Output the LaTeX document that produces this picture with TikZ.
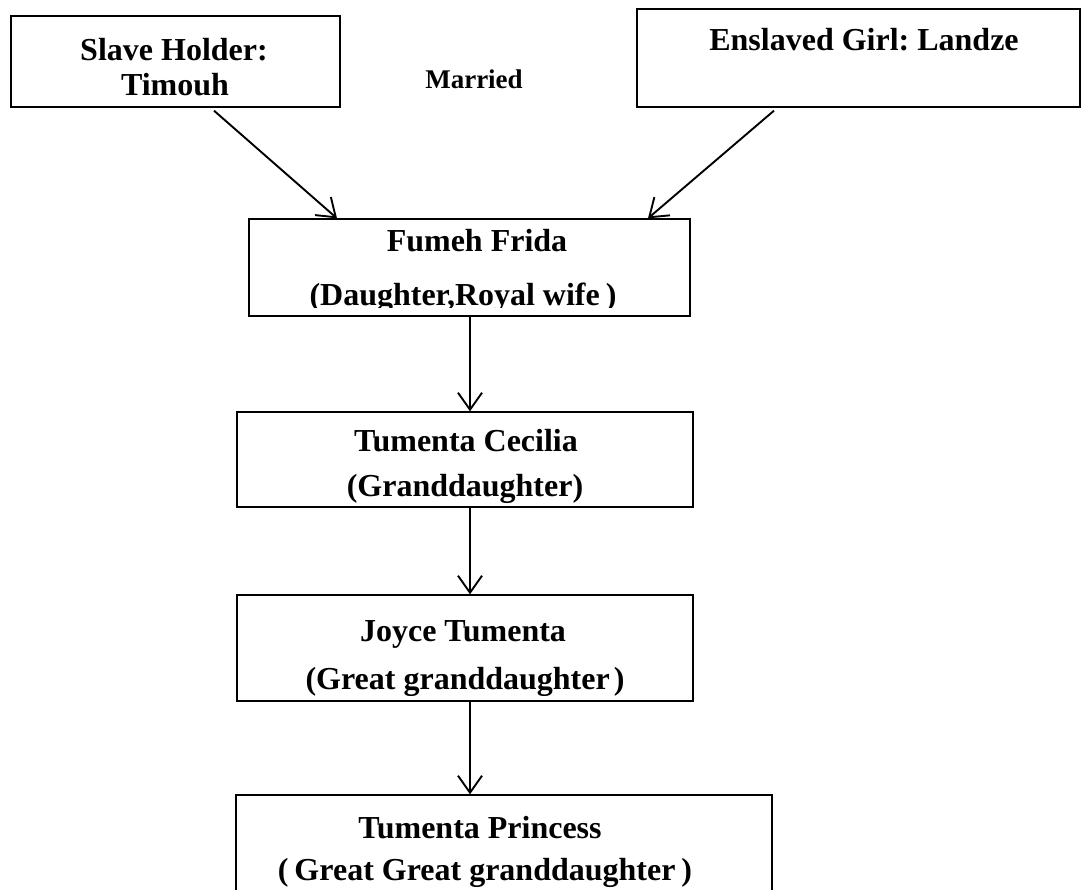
\documentclass[tikz,border=0pt]{standalone}
\usepackage{fontspec}
\setmainfont{Liberation Serif}
\usetikzlibrary{arrows.meta}
\frenchspacing
\begin{document}
\begin{tikzpicture}[x=1pt,y=-1pt,
  box/.style={draw, line width=1.3pt, rectangle, inner sep=0pt},
  lbl/.style={anchor=base, inner sep=0pt, font=\fontsize{32}{38}\selectfont\bfseries},
  small/.style={anchor=base, inner sep=0pt, font=\fontsize{27}{32}\selectfont\bfseries},
  link/.style={line width=1.9pt, -{Straight Barb[length=17pt,width=24pt,line width=1.9pt]}}]
\useasboundingbox (0,0) rectangle (1087,890);
\clip (0,0) rectangle (1087,890);

% family boxes
\node[box, minimum width=329pt, minimum height=91pt] (holder) at (175.5,61.5) {};
\node[box, minimum width=443pt, minimum height=98pt] (girl) at (858.5,58) {};
\node[box, minimum width=441pt, minimum height=97pt] (fumeh) at (469.5,267.5) {};
\node[box, minimum width=456pt, minimum height=95pt] (cecilia) at (465,459.5) {};
\node[box, minimum width=456pt, minimum height=106pt] (joyce) at (465,648) {};
\node[box, minimum width=536pt, minimum height=130pt] (princess) at (504,860) {};

% names
\node[lbl] (holder1) at (174,61) {Slave Holder:};
\node[lbl] (holder2) at (175,96) {Timouh};
\node[lbl] (girl1) at (864,51) {Enslaved Girl: Landze};
\node[small] (married) at (474,89) {Married};

\begin{scope}
  \clip (fumeh.north west) rectangle ([yshift=9pt]fumeh.south east);
  \node[lbl] (fumeh1) at (477,252) {Fumeh Frida};
  \node[lbl] (fumeh2) at (463,306) {(Daughter,Royal wife\hspace{6pt})};
\end{scope}

\node[lbl] (cecilia1) at (466,451) {Tumenta Cecilia};
\node[lbl] (cecilia2) at (465,496) {(Granddaughter)};

\node[lbl] (joyce1) at (463,641) {Joyce Tumenta};
\node[lbl] (joyce2) at (465,689) {(Great granddaughter\hspace{4pt})};

\node[lbl] (princess1) at (480,838) {Tumenta Princess};
\node[lbl] (princess2) at (485,880) {(\hspace{6pt}Great Great granddaughter\hspace{6pt})};

% connectors
\coordinate (hs) at ([xshift=38.5pt,yshift=-3pt]holder.south);
\coordinate (gs) at ([xshift=-84.5pt,yshift=-3pt]girl.south);
\coordinate (fl) at ([xshift=-132.5pt]fumeh.north);
\coordinate (fr) at ([xshift=178.5pt]fumeh.north);
\draw[link] (hs) -- (fl);
\draw[link] (gs) -- (fr);
\draw[link] ([xshift=0.5pt]fumeh.south) -- ([xshift=0.5pt]fumeh.south |- cecilia.north);
\draw[link] ([xshift=5pt]cecilia.south) -- ([xshift=5pt]cecilia.south |- joyce.north);
\draw[link] ([xshift=5pt]joyce.south) -- ([xshift=5pt]joyce.south |- princess.north);
\end{tikzpicture}
\end{document}
